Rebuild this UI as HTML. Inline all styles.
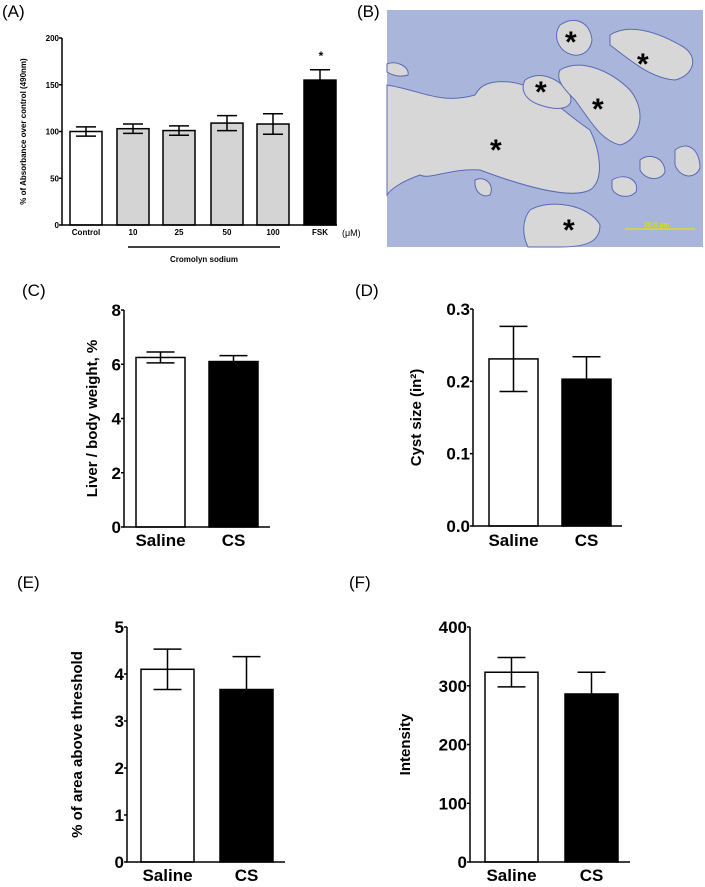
<!DOCTYPE html>
<html><head><meta charset="utf-8"><style>
html,body{margin:0;padding:0;background:#fff;}
svg{display:block;}
text{font-family:"Liberation Sans",sans-serif;fill:#000;}
.tk{font-family:"Liberation Sans Narrow","Liberation Sans",sans-serif;font-weight:bold;font-size:17px;}
.yl{font-weight:bold;font-size:15px;}
.pl{font-size:17px;}
.sa{font-weight:bold;font-size:8px;}
</style></head><body>
<svg id="fig" width="705" height="887" viewBox="0 0 705 887" xmlns="http://www.w3.org/2000/svg">
<g>
<rect x="387" y="10" width="316" height="237" fill="#aab5dc"/>
<g fill="#d7d7d7" stroke="#5a6ab5" stroke-width="1">
<path d="M387,85 C420,90 440,105 475,95 C480,85 490,80 510,82 C540,85 560,110 590,130 C600,150 605,180 590,190 C570,200 520,185 480,170 C450,168 430,180 420,175 C400,182 390,190 387,195 Z"/>
<path d="M560,25 C575,15 590,22 592,40 C590,55 575,60 563,50 C555,42 555,32 560,25 Z"/>
<path d="M610,35 C625,25 650,28 680,45 C700,55 695,75 675,80 C650,78 630,60 610,45 Z"/>
<path d="M525,80 C540,70 560,78 570,95 C575,108 560,112 540,105 C525,100 520,90 525,80 Z"/>
<path d="M560,70 C580,58 610,70 630,90 C648,112 640,140 620,145 C600,140 590,120 575,100 C565,90 555,80 560,70 Z"/>
<path d="M530,210 C550,198 590,205 600,225 C600,240 590,247 560,247 L528,247 C522,235 522,220 530,210 Z"/>
<path d="M387,64 C395,60 410,66 408,75 C398,78 390,74 387,72 Z"/>
<path d="M640,160 C650,152 665,158 665,172 C660,182 645,180 640,170 Z"/>
<path d="M612,180 C625,172 640,180 636,192 C628,200 614,196 612,188 Z"/>
<path d="M675,150 C688,140 700,150 700,168 C695,180 680,178 675,165 Z"/>
<path d="M475,180 C485,175 495,185 490,195 C482,198 474,192 475,180 Z"/>
</g>
<g font-size="30" font-weight="bold">
<text x="565" y="52">*</text><text x="637" y="74">*</text><text x="535" y="102">*</text><text x="592" y="119">*</text><text x="490" y="160">*</text><text x="563" y="240">*</text>
</g>
<line x1="625" y1="229" x2="695" y2="229" stroke="#e8e000" stroke-width="1.2"/>
<text x="644" y="227" font-size="7" style="fill:#e8e000">20.0 μm</text>
</g>
<text class="pl" x="2" y="17">(A)</text>
<text class="pl" x="357" y="17">(B)</text>
<text class="pl" x="22" y="296">(C)</text>
<text class="pl" x="355" y="296">(D)</text>
<text class="pl" x="17" y="588">(E)</text>
<text class="pl" x="349" y="588">(F)</text>
</svg>
<script>
// Panel A data
const aCategories = ["Control","10","25","50","100","FSK"];
const aValues = [100,103,101,109,108,155];
const aErrors = [5,5,5,8,11,11];
const aTicks = [0,50,100,150,200];
// Panel C
const cCategories = ["Saline","CS"];
const cValues = [6.25,6.1];
const cErrors = [0.2,0.22];
const cTicks = [0,2,4,6,8];
// Panel D
const dValues = [0.231,0.203];
const dErrors = [0.045,0.031];
const dTicks = ["0.0","0.1","0.2","0.3"];
// Panel E
const eValues = [4.1,3.67];
const eErrors = [0.43,0.7];
const eTicks = [0,1,2,3,4,5];
// Panel F
const fValues = [323,286];
const fErrors = [25,37];
const fTicks = [0,100,200,300,400];

const svg = document.getElementById('fig');
const NS = 'http://www.w3.org/2000/svg';
function mk(tag, attrs, parent){
  const e = document.createElementNS(NS, tag);
  for (const k in attrs) e.setAttribute(k, attrs[k]);
  (parent||svg).appendChild(e);
  return e;
}
function chart(o){
  const g = mk('g', {});
  
  
  const tmax = parseFloat(o.ticks[o.ticks.length-1]);
  const y = v => o.y0 - (v / tmax) * (o.y0 - o.ytop);
  const x = i => o.barX[i];
  // bars
  o.values.forEach((v,i)=>{
    const top = y(v), eh = y(v+o.errors[i]), el = y(v-o.errors[i]);
    const cx = x(i) + o.bw/2;
    const b = mk('rect', {x:x(i), y:top, width:o.bw, height:o.y0-top, fill:o.fills[i], stroke:'#000', 'stroke-width':o.sw}, g);
    
    
    const lowY = o.fills[i] === '#000' ? top : el;
    const eb = mk('path', {d:`M${cx},${lowY}V${eh}M${cx-o.cap},${eh}H${cx+o.cap}` + (o.fills[i]==='#000'?'':`M${cx-o.cap},${el}H${cx+o.cap}`), stroke:'#000', 'stroke-width':o.sw, fill:'none'}, g);
    
    
    const lb = mk('text', {x:cx, y:o.labelY, 'text-anchor':'middle', class:o.tickClass||'tk'}, g);
    lb.textContent = o.cats[i];
    
    
  });
  // axes
  const ax = mk('path', {d:`M${o.ax},${o.ytop}V${o.y0}H${o.axEnd}`, stroke:'#000', 'stroke-width':o.sw, fill:'none'}, g);
  
  
  o.ticks.forEach(t=>{
    const yy = y(parseFloat(t));
    mk('line', {x1:o.ax-3, x2:o.ax, y1:yy, y2:yy, stroke:'#000', 'stroke-width':o.sw}, g);
    const tl = mk('text', {x:o.ax-3, y:yy+o.tickDy, 'text-anchor':'end', class:o.tickClass||'tk'}, g);
    tl.textContent = t;
    
    
  });
  const yl = mk('text', {x:0, y:0, 'text-anchor':'middle', class:o.ylClass||'yl', transform:`translate(${o.ylX},${(o.ytop+o.y0)/2}) rotate(-90)`}, g);
  yl.textContent = o.ylabel;
  
  
  return yl;
}
// Panel A
chart({name:'chart-a', cats:aCategories, values:aValues, errors:aErrors, ticks:aTicks,
  fills:['#fff','#d4d4d4','#d4d4d4','#d4d4d4','#d4d4d4','#000'],
  barX:[70,117,163,211,257,304], bw:32, cap:10, sw:1.5, ax:62, ytop:38, y0:225, axEnd:337,
  labelY:235, tickDy:3, tickClass:'sa', ylClass:'sa', ylX:26, ylabel:'% of Absorbance over control (490nm)'});
let t = mk('text', {x:342, y:236, 'font-size':'9'}); t.textContent='(μM)';
 
let ln = mk('line', {x1:128, x2:280, y1:247, y2:247, stroke:'#000', 'stroke-width':1.5});
 
t = mk('text', {x:204, y:262, 'text-anchor':'middle', class:'sa'}); t.textContent='Cromolyn sodium';
 
t = mk('text', {x:321, y:60, 'text-anchor':'middle', 'font-size':'12', 'font-weight':'bold'}); t.textContent='*';
 
// Panel C
chart({name:'chart-c', cats:cCategories, values:cValues, errors:cErrors, ticks:cTicks, fills:['#fff','#000'],
  barX:[136,209], bw:49, cap:14, sw:1.5, ax:124, ytop:310, y0:527, axEnd:270, labelY:546, tickDy:6, ylX:97, ylabel:'Liver / body weight, %'});
// Panel D
chart({name:'chart-d', cats:cCategories, values:dValues, errors:dErrors, ticks:dTicks, fills:['#fff','#000'],
  barX:[489,562], bw:49, cap:14, sw:1.5, ax:473, ytop:309, y0:526, axEnd:622, labelY:546, tickDy:6, ylX:421, ylClass:'yl', ylabel:'Cyst size (in²)'});
// Panel E
chart({name:'chart-e', cats:cCategories, values:eValues, errors:eErrors, ticks:eTicks, fills:['#fff','#000'],
  barX:[141,220], bw:53, cap:14, sw:1.5, ax:127, ytop:627, y0:862, axEnd:285, labelY:881, tickDy:6, ylX:82, ylabel:'% of area above threshold'});
// Panel F
chart({name:'chart-f', cats:cCategories, values:fValues, errors:fErrors, ticks:fTicks, fills:['#fff','#000'],
  barX:[485,565], bw:53, cap:14, sw:1.5, ax:470, ytop:627, y0:862, axEnd:630, labelY:881, tickDy:6, ylX:410, ylabel:'Intensity'});
</script>
</body></html>
